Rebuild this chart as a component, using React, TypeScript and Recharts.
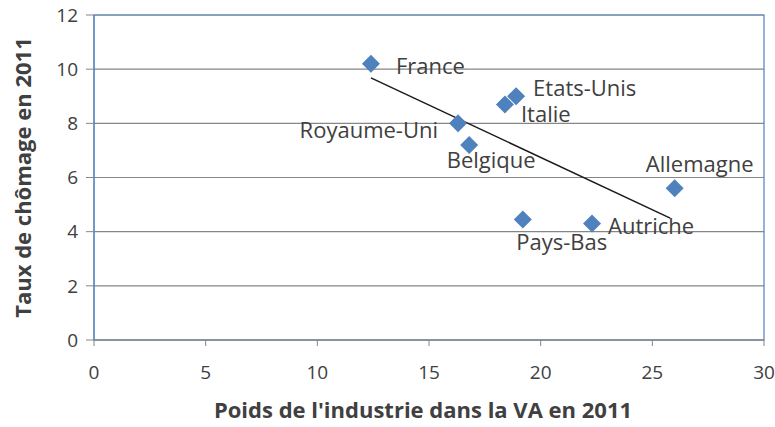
import React from "react";
import {
  CartesianGrid,
  Label,
  ReferenceArea,
  Scatter,
  ScatterChart,
  XAxis,
  YAxis
} from "recharts";

const countries = [
  "France",
  "Etats-Unis",
  "Italie",
  "Royaume-Uni",
  "Belgique",
  "Allemagne",
  "Pays-Bas",
  "Autriche"
];
const industryShare = [12.4, 18.9, 18.4, 16.3, 16.8, 26.0, 19.2, 22.3];
const unemployment = [10.2, 9.0, 8.7, 8.0, 7.2, 5.6, 4.45, 4.3];

const trendX = [12.4, 25.8];
const trendY = [9.68, 4.5];

const xTicks = [0, 5, 10, 15, 20, 25, 30];
const yTicks = [0, 2, 4, 6, 8, 10, 12];

const points = countries.map((name, i) => ({
  name,
  x: industryShare[i],
  y: unemployment[i]
}));
const trend = trendX.map((x, i) => ({ x, y: trendY[i] }));

const BLUE = "#4F81BD";
const GRID = "#868686";
const TEXT = "#404040";
const FONT = "'Open Sans', Lato, sans-serif";

// where each country name sits relative to its marker
const LABEL_POS: Record<string, { dx: number; dy: number; anchor: "start" | "middle" | "end" }> = {
  France: { dx: 25, dy: 1, anchor: "start" },
  "Etats-Unis": { dx: 17, dy: -9, anchor: "start" },
  Italie: { dx: 16, dy: 9, anchor: "start" },
  "Royaume-Uni": { dx: -20, dy: 6, anchor: "end" },
  Belgique: { dx: 22, dy: 14, anchor: "middle" },
  Allemagne: { dx: 25, dy: -25, anchor: "middle" },
  "Pays-Bas": { dx: 39, dy: 22, anchor: "middle" },
  Autriche: { dx: 16, dy: 1, anchor: "start" }
};

function CountryMarker(props: any) {
  const { cx, cy, payload } = props;
  const r = 9;
  const pos = LABEL_POS[payload.name];
  return (
    <g>
      <polygon
        points={`${cx},${cy - r} ${cx + r},${cy} ${cx},${cy + r} ${cx - r},${cy}`}
        fill={BLUE}
      />
      <text
        x={cx + pos.dx}
        y={cy + pos.dy}
        textAnchor={pos.anchor}
        dominantBaseline="central"
        fontSize={22}
        fontFamily={FONT}
        fill={TEXT}
      >
        {payload.name}
      </text>
    </g>
  );
}

function YTitle(props: any) {
  const { viewBox } = props;
  const cx = 22;
  const cy = viewBox.y + viewBox.height / 2;
  return (
    <text
      x={cx}
      y={cy}
      transform={`rotate(-90, ${cx}, ${cy})`}
      textAnchor="middle"
      dominantBaseline="central"
      fontSize={22}
      fontWeight={700}
      fontFamily={FONT}
      fill={TEXT}
    >
      Taux de chômage en 2011
    </text>
  );
}

export default function App() {
  return (
    <div style={{ position: "absolute", left: 0, top: 0, background: "#fff" }}>
      <ScatterChart
        width={775}
        height={427}
        margin={{ top: 15, right: 11, left: 34, bottom: 37 }}
      >
        <CartesianGrid vertical={false} stroke={GRID} strokeWidth={1.2} />
        <ReferenceArea
          x1={0}
          x2={30}
          y1={0}
          y2={12}
          fill="none"
          stroke={BLUE}
          strokeWidth={1.2}
          strokeOpacity={1}
          fillOpacity={0}
        />
        <XAxis
          type="number"
          dataKey="x"
          domain={[0, 30]}
          ticks={xTicks}
          height={50}
          stroke={GRID}
          tickSize={6}
          tickMargin={20}
          tick={{ fill: TEXT, fontSize: 19, fontFamily: FONT }}
        >
          <Label
            value="Poids de l'industrie dans la VA en 2011"
            position="bottom"
            offset={12}
            dx={-6}
            fontSize={22}
            fontWeight={700}
            fontFamily={FONT}
            fill={TEXT}
          />
        </XAxis>
        <YAxis
          type="number"
          dataKey="y"
          domain={[0, 12]}
          ticks={yTicks}
          width={60}
          axisLine={{ stroke: BLUE }}
          tickLine={{ stroke: GRID }}
          tickSize={8}
          tickMargin={8}
          tick={{ fill: TEXT, fontSize: 19, fontFamily: FONT }}
          label={<YTitle />}
        />
        <Scatter
          data={trend}
          line={{ stroke: "#1a1a1a", strokeWidth: 1.5 }}
          lineType="joint"
          shape={() => null}
          isAnimationActive={false}
        />
        <Scatter
          data={points}
          shape={<CountryMarker />}
          isAnimationActive={false}
        />
      </ScatterChart>
    </div>
  );
}
